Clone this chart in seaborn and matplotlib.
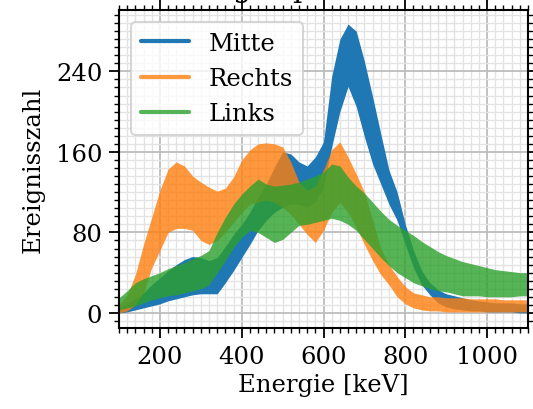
import numpy as np
import pandas as pd
import matplotlib
matplotlib.use("Agg")
import matplotlib.pyplot as plt
import seaborn as sns
from matplotlib.ticker import MultipleLocator
from matplotlib.lines import Line2D

# Energy channels (keV)
energie = np.arange(100, 1101, 20)

# Upper / lower envelopes of the noisy spectra (counts)
mitte_hi = [5, 10, 14, 20, 28, 35, 42, 48, 53, 56, 55, 52, 55, 66, 78, 88, 100, 115, 128, 145,
            160, 158, 150, 146, 155, 170, 235, 272, 287, 280, 250, 215, 178, 142, 120, 88, 62, 42,
            30, 23, 19, 17, 15, 13, 12, 11, 10, 10, 10, 9, 9]
mitte_lo = [0, 1, 3, 5, 7, 9, 12, 14, 16, 18, 19, 19, 19, 30, 42, 55, 68, 82, 92, 100,
            105, 108, 108, 105, 110, 125, 165, 200, 225, 205, 175, 148, 128, 108, 92, 68, 45, 28,
            18, 10, 6, 4, 3, 2, 2, 1, 1, 1, 1, 0, 0]
rechts_hi = [8, 18, 38, 68, 95, 122, 143, 150, 146, 136, 130, 125, 121, 124, 135, 152, 162, 168, 169, 168,
             165, 150, 130, 122, 126, 142, 162, 170, 155, 138, 120, 92, 64, 48, 36, 26, 20, 18,
             16, 16, 15, 15, 15, 14, 14, 14, 14, 13, 13, 13, 13]
rechts_lo = [0, 2, 8, 20, 45, 62, 80, 84, 84, 82, 72, 68, 72, 80, 90, 100, 108, 110, 112, 110,
             105, 98, 88, 78, 70, 82, 100, 110, 100, 85, 68, 52, 38, 28, 16, 9, 5, 3,
             2, 2, 1, 1, 1, 1, 1, 1, 1, 1, 1, 1, 1]
links_hi = [15, 22, 30, 34, 37, 40, 44, 47, 50, 54, 57, 62, 80, 95, 108, 118, 126, 133, 128, 126,
            127, 128, 130, 133, 136, 140, 148, 146, 135, 126, 119, 110, 101, 93, 87, 82, 77, 71,
            66, 61, 57, 54, 51, 49, 47, 45, 43, 42, 41, 40, 40]
links_lo = [3, 5, 7, 10, 13, 15, 17, 18, 20, 22, 24, 28, 40, 52, 65, 75, 82, 80, 75, 70,
            73, 80, 87, 88, 90, 92, 94, 92, 88, 82, 73, 64, 55, 47, 40, 35, 30, 27,
            24, 22, 21, 19, 17, 17, 17, 16, 16, 16, 16, 17, 17]

labels = ["Mitte", "Rechts", "Links"]
colors = ["#1f77b4", "#ff7f0e", "#2ca02c"]
alphas = [1.0, 0.8, 0.8]

series = {
    "Mitte": (mitte_hi, mitte_lo),
    "Rechts": (rechts_hi, rechts_lo),
    "Links": (links_hi, links_lo),
}

sns.set_theme(style="whitegrid")
plt.rcParams["font.family"] = ["DejaVu Serif"]
plt.rcParams["mathtext.fontset"] = "dejavuserif"
plt.rcParams["text.color"] = "black"
plt.rcParams["axes.labelcolor"] = "black"
plt.rcParams["xtick.color"] = "black"
plt.rcParams["ytick.color"] = "black"

FS = 17.5
fig = plt.figure(figsize=(5.33, 4.10), dpi=100, facecolor="white")
ax = fig.add_axes([119 / 533, 1 - 329 / 410, (528 - 119) / 533, (329 - 11) / 410])
ax.set_facecolor("white")

for name, col, a in zip(labels, colors, alphas):
    hi, lo = series[name]
    df = pd.DataFrame({
        "Energie": np.concatenate([energie, energie]),
        "Ereignisse": np.concatenate([hi, lo]),
    })
    sns.lineplot(data=df, x="Energie", y="Ereignisse", estimator="mean",
                 errorbar=("pi", 100), color=col, linewidth=0, ax=ax,
                 err_kws={"alpha": a, "linewidth": 0}, legend=False)

ax.set_xlim(100, 1100)
ax.set_ylim(-15, 301)
ax.xaxis.set_major_locator(MultipleLocator(200))
ax.xaxis.set_minor_locator(MultipleLocator(20))
ax.yaxis.set_major_locator(MultipleLocator(80))
ax.yaxis.set_minor_locator(MultipleLocator(8))

ax.set_axisbelow(True)
ax.grid(which="major", color="#bdbdbd", linewidth=1.3)
ax.grid(which="minor", color="#e3e3e3", linewidth=1.0)

for s in ax.spines.values():
    s.set_color("black")
    s.set_linewidth(1.5)

ax.tick_params(which="both", direction="out", top=True, right=True,
               bottom=True, left=True, colors="black", labelcolor="black")
ax.tick_params(which="major", length=7, width=1.3, pad=5, labelsize=FS)
ax.tick_params(which="minor", length=3.5, width=1.0)

ax.set_xlabel("Energie [keV]", fontsize=FS, labelpad=4, color="black")
ax.set_ylabel("Ereignisszahl", fontsize=FS, labelpad=8, color="black")
ax.set_title("Energiespektrum", x=0.42, fontsize=21, pad=10, color="black")

handles = [Line2D([0], [0], color=c, lw=3, alpha=a) for c, a in zip(colors, alphas)]
leg = ax.legend(handles, labels, loc="upper left", fontsize=FS, frameon=True,
                fancybox=True, framealpha=0.8, edgecolor="#cccccc",
                borderaxespad=0.5)
leg.get_frame().set_linewidth(1.5)
for t in leg.get_texts():
    t.set_color("black")

fig.savefig("out.png", dpi=100, facecolor="white")
